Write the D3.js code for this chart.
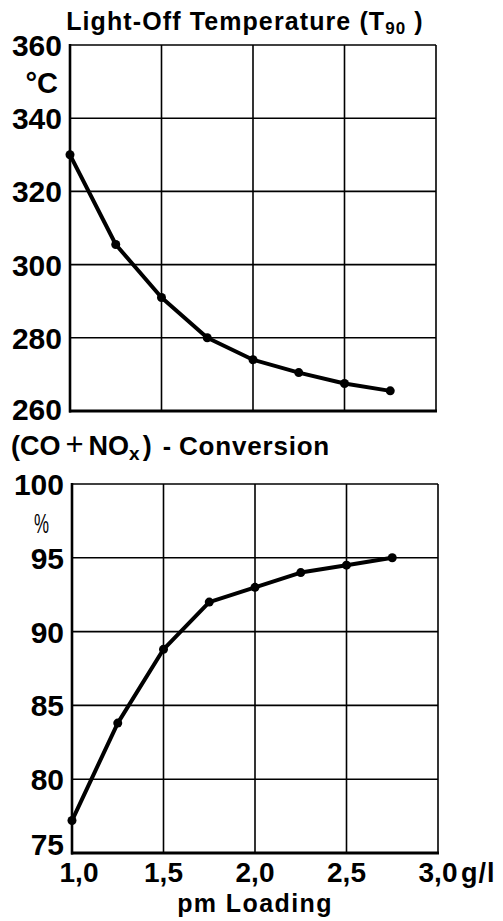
<!DOCTYPE html>
<html>
<head>
<meta charset="utf-8">
<script src="https://cdn.jsdelivr.net/npm/d3@7"></script>
<style>
  html, body { margin: 0; padding: 0; background: #fff; }
  svg { display: block; font-family: "Liberation Sans", Arial, Helvetica, sans-serif; }
</style>
</head>
<body>
<svg id="chart" width="503" height="921"></svg>
<script>
// pm loading (g/l)
const loading = [1.0, 1.25, 1.5, 1.75, 2.0, 2.25, 2.5, 2.75];
// light-off temperature T90 (°C)
const lightOff = [330, 305.5, 291, 280, 274, 270.5, 267.5, 265.5];
// (CO + NOx) conversion (%)
const conversion = [77.2, 83.8, 88.8, 92, 93, 94, 94.5, 95];

const xTicks = [1.0, 1.5, 2.0, 2.5, 3.0];
const xTickLabels = ["1,0", "1,5", "2,0", "2,5", "3,0"];
const tempTicks = [260, 280, 300, 320, 340, 360];
const convTicks = [75, 80, 85, 90, 95, 100];

const svg = d3.select("#chart");

function panel(opts) {
  const x = d3.scaleLinear().domain([1.0, 3.0]).range(opts.xRange);
  const y = d3.scaleLinear().domain(opts.yDomain).range(opts.yRange);
  const g = svg.append("g");

  // grid
  g.append("g").selectAll("line").data(xTicks.slice(1)).join("line")
    .attr("x1", d => x(d)).attr("x2", d => x(d))
    .attr("y1", y(opts.yDomain[0])).attr("y2", y(opts.yDomain[1]))
    .attr("stroke", "#000").attr("stroke-width", 1.6);
  g.append("g").selectAll("line").data(opts.ticks.slice(1)).join("line")
    .attr("x1", x(1.0)).attr("x2", x(3.0))
    .attr("y1", d => y(d)).attr("y2", d => y(d))
    .attr("stroke", "#000").attr("stroke-width", 1.6);

  // axes
  g.append("line")
    .attr("x1", x(1.0)).attr("x2", x(1.0))
    .attr("y1", y(opts.yDomain[0]) + 1.5).attr("y2", y(opts.yDomain[1]) - 1)
    .attr("stroke", "#000").attr("stroke-width", 2.6);
  g.append("line")
    .attr("x1", x(1.0) - 1).attr("x2", x(3.0) + 1)
    .attr("y1", y(opts.yDomain[0])).attr("y2", y(opts.yDomain[0]))
    .attr("stroke", "#000").attr("stroke-width", 3);

  // y tick labels (lowest label of the lower panel sits above the axis)
  g.append("g").selectAll("text").data(opts.ticks).join("text")
    .attr("x", x(1.0) - 8)
    .attr("y", (d, i) => y(d) + (i === 0 ? opts.firstLabelDy : 11))
    .attr("text-anchor", "end")
    .attr("font-weight", "bold")
    .attr("font-size", 30)
    .text(d => d);

  // series
  const pts = loading.map((l, i) => [x(l), y(opts.values[i])]);
  g.append("path")
    .attr("d", d3.line()(pts))
    .attr("fill", "none").attr("stroke", "#000")
    .attr("stroke-width", 4).attr("stroke-linejoin", "round");
  g.append("g").selectAll("circle").data(pts).join("circle")
    .attr("cx", d => d[0]).attr("cy", d => d[1]).attr("r", 4.5)
    .attr("fill", "#000");

  return { x, y };
}

const upperPanel = panel({
  xRange: [70, 436], yDomain: [260, 360], yRange: [411, 45],
  ticks: tempTicks, values: lightOff, firstLabelDy: 9
});
const lowerPanel = panel({
  xRange: [72, 438], yDomain: [75, 100], yRange: [853, 484],
  ticks: convTicks, values: conversion, firstLabelDy: 2
});

// title of upper panel
const t1 = svg.append("text").attr("x", 245).attr("y", 30)
  .attr("text-anchor", "middle").attr("font-weight", "bold").attr("font-size", 25)
  .attr("letter-spacing", 1.1);
t1.append("tspan").text("Light-Off Temperature (T");
t1.append("tspan").attr("font-size", 17).attr("dy", 4).text("90");
t1.append("tspan").attr("dy", -4).text(" )");

// unit labels
svg.append("text").attr("x", 58).attr("y", 93).attr("text-anchor", "end")
  .attr("font-weight", "bold").attr("font-size", 29).text("°C");
svg.append("text").attr("x", 34).attr("y", 533)
  .attr("font-size", 28).attr("textLength", 15).attr("lengthAdjust", "spacingAndGlyphs")
  .text("%");

// title of lower panel
const t2 = svg.append("text").attr("x", 11).attr("y", 455)
  .attr("font-weight", "bold").attr("font-size", 27);
t2.append("tspan").text("(CO");
t2.append("tspan").attr("font-weight", "normal").attr("font-size", 31).attr("dx", 5).text("+");
t2.append("tspan").attr("dx", 5).text("NO");
t2.append("tspan").attr("font-size", 19).attr("dy", 5).text("x");
t2.append("tspan").attr("dy", -5).attr("dx", 3).text(")");
t2.append("tspan").attr("font-size", 25).attr("dx", 11).text("-");
t2.append("tspan").attr("font-size", 26).attr("dx", 8).attr("letter-spacing", 0.8).text("Conversion");

// x tick labels (first one is nudged clear of the y axis)
svg.append("g").selectAll("text").data(xTicks).join("text")
  .attr("x", (d, i) => lowerPanel.x(d) + (i === 0 ? 7 : 0))
  .attr("y", 882)
  .attr("text-anchor", "middle")
  .attr("font-weight", "bold").attr("font-size", 28)
  .text((d, i) => xTickLabels[i]);
svg.append("text").attr("x", 461).attr("y", 882)
  .attr("font-weight", "bold").attr("font-size", 27).attr("letter-spacing", 1)
  .text("g/l");

// x axis title
svg.append("text").attr("x", 255).attr("y", 912)
  .attr("text-anchor", "middle").attr("font-weight", "bold").attr("font-size", 25)
  .attr("letter-spacing", 1.4)
  .text("pm Loading");
</script>
</body>
</html>
